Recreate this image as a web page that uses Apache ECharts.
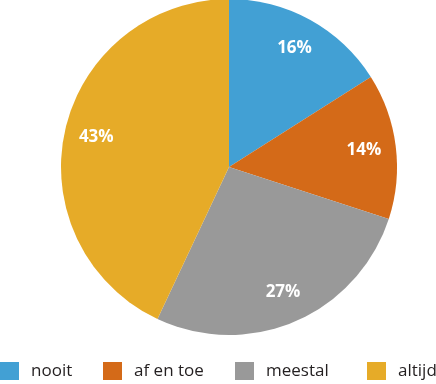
<!DOCTYPE html>
<html>
<head>
<meta charset="utf-8">
<script src="https://cdn.jsdelivr.net/npm/echarts@6/dist/echarts.min.js"></script>
<style>html,body{margin:0;padding:0;background:#fff}#c{width:436px;height:384px}</style>
</head>
<body>
<div id="c"></div>
<script>
const categories = ['nooit', 'af en toe', 'meestal', 'altijd'];
const values = [16, 14, 27, 43];
const colors = ['#42a0d4', '#d46a18', '#999999', '#e6ab28'];
const legendLeft = [0, 103, 235, 367];

const chart = echarts.init(document.getElementById('c'), null, {renderer: 'canvas'});
const data = categories.map((n, i) => ({name: n, value: values[i], itemStyle: {color: colors[i]}}));
const legends = categories.map((n, i) => ({
  data: [n], left: legendLeft[i], top: 362, orient: 'horizontal',
  itemWidth: 19, itemHeight: 18, icon: 'rect', selectedMode: false, padding: 0,
  textStyle: {fontFamily: 'Open Sans', fontSize: 17, color: '#231f20', padding: [0, 0, 0, 7]}
}));
chart.setOption({
  animation: false,
  legend: legends,
  series: [
    {
      type: 'pie', center: [229, 167], radius: [0, 168], startAngle: 90, clockwise: true,
      label: {show: false}, labelLine: {show: false}, emphasis: {disabled: true},
      itemStyle: {borderWidth: 0}, data: data
    },
    {
      type: 'pie', center: [229, 167], radius: [98, 168], startAngle: 90, clockwise: true,
      silent: true, legendHoverLink: false, emphasis: {disabled: true},
      itemStyle: {color: 'rgba(0,0,0,0)', borderWidth: 0},
      label: {show: true, position: 'inside', formatter: '{c}%', color: '#fff',
        fontFamily: 'Open Sans', fontWeight: 'bold', fontSize: 17, padding: [6, 0, 0, 0]},
      labelLine: {show: false},
      data: categories.map((n, i) => ({name: n + ' ', value: values[i]}))
    }
  ]
});
</script>
</body>
</html>
